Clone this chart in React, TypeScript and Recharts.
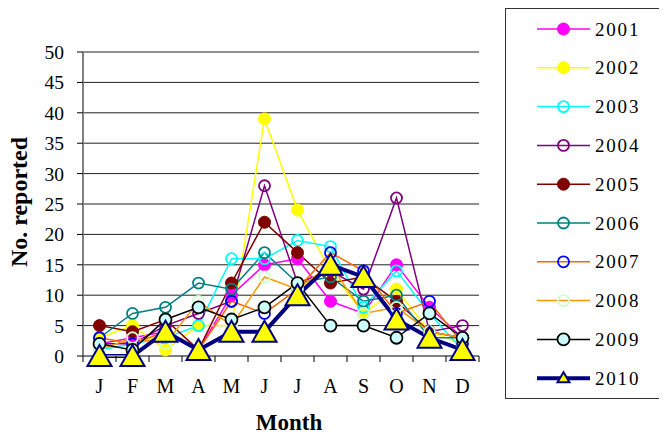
import { LineChart, Line, XAxis, YAxis, CartesianGrid, Label } from 'recharts';

const months = ['J', 'F', 'M', 'A', 'M', 'J', 'J', 'A', 'S', 'O', 'N', 'D'];
const yTicks = [0, 5, 10, 15, 20, 25, 30, 35, 40, 45, 50];

const s2001 = [2, 3, 4, 1, 10, 15, 16, 9, 7, 15, 8, 3];
const s2002 = [3, 5, 1, 5, 5, 39, 24, 14, 7, 11, 4, 2];
const s2003 = [1, 2, 3, 5, 16, 16, 19, 18, 8, 14, 7, 1];
const s2004 = [2, 2, 5, 7, 9, 28, 12, 14, 11, 26, 4, 5];
const s2005 = [5, 4, 6, 1, 12, 22, 17, 12, 13, 9, 4, 3];
const s2006 = [3, 7, 8, 12, 11, 17, 12, 13, 9, 10, 3, 3];
const s2007 = [3, 2, 4, 1, 9, 7, 11, 17, 14, 7, 9, 2];
const s2008 = [1, 3, 2, 9, 5, 13, 11, 15, 7, 8, 4, 3];
const s2009 = [2, 1, 6, 8, 6, 8, 12, 5, 5, 3, 7, 3];
const s2010 = [0, 0, 4, 1, 4, 4, 10, 15, 13, 6, 3, 1];

const FONT = 'Liberation Serif, Times New Roman, Tinos, Times, serif';

type Kind = 'filled' | 'open' | 'cyanfill' | 'triangle';

const series: { key: string; name: string; values: number[]; line: string; mark: string; kind: Kind; width: number }[] = [
  { key: 'y2001', name: '2001', values: s2001, line: '#FF00FF', mark: '#FF00FF', kind: 'filled', width: 1.5 },
  { key: 'y2002', name: '2002', values: s2002, line: '#FFFF00', mark: '#FFFF00', kind: 'filled', width: 1.5 },
  { key: 'y2003', name: '2003', values: s2003, line: '#00FFFF', mark: '#00FFFF', kind: 'open', width: 1.5 },
  { key: 'y2004', name: '2004', values: s2004, line: '#800080', mark: '#800080', kind: 'open', width: 1.5 },
  { key: 'y2005', name: '2005', values: s2005, line: '#800000', mark: '#800000', kind: 'filled', width: 1.5 },
  { key: 'y2006', name: '2006', values: s2006, line: '#008080', mark: '#008080', kind: 'open', width: 1.5 },
  { key: 'y2007', name: '2007', values: s2007, line: '#FF6600', mark: '#0000FF', kind: 'open', width: 1.5 },
  { key: 'y2008', name: '2008', values: s2008, line: '#FF9900', mark: '#CCFFCC', kind: 'open', width: 1.5 },
  { key: 'y2009', name: '2009', values: s2009, line: '#000000', mark: '#CCFFFF', kind: 'cyanfill', width: 1.5 },
  { key: 'y2010', name: '2010', values: s2010, line: '#000080', mark: '#FFFF00', kind: 'triangle', width: 4 },
];

const rows = months.map((m, i) => {
  const r: Record<string, number | string> = { x: i + 0.5, month: m };
  series.forEach((s) => {
    r[s.key] = s.values[i];
  });
  return r;
});

const Marker = ({ cx, cy, kind, color, big }: { cx: number; cy: number; kind: Kind; color: string; big?: boolean }) => {
  if (kind === 'filled') return <circle cx={cx} cy={cy} r={6} fill={color} stroke={color} strokeWidth={1} />;
  if (kind === 'open') return <circle cx={cx} cy={cy} r={5.5} fill="none" stroke={color} strokeWidth={1.8} />;
  if (kind === 'cyanfill') return <circle cx={cx} cy={cy} r={6} fill={color} stroke="#000" strokeWidth={1.8} />;
  const w = big ? 12 : 6;
  const h1 = big ? 11 : 6;
  const h2 = big ? 10 : 4;
  return (
    <polygon
      points={`${cx},${cy - h1} ${cx - w},${cy + h2} ${cx + w},${cy + h2}`}
      fill={color}
      stroke="#000080"
      strokeWidth={2}
    />
  );
};

const MonthTick = (props: any) => {
  const { x, y, payload, width } = props;
  const idx = Math.floor(payload.value);
  const half = (typeof width === 'number' ? width : 396) / 24;
  return (
    <g>
      <line x1={x - half} y1={y} x2={x - half} y2={y + 6} stroke="#000" strokeWidth={1} />
      {idx === months.length - 1 && <line x1={x + half} y1={y} x2={x + half} y2={y + 6} stroke="#000" strokeWidth={1} />}
      <text x={x} y={y + 37} textAnchor="middle" fontSize={20} style={{ fontFamily: FONT }} fill="#000">
        {months[idx]}
      </text>
    </g>
  );
};

const LegendBox = () => (
  <div
    style={{
      position: 'absolute',
      left: 497,
      top: 0,
      width: 170,
      height: 391,
      border: '1.5px solid #333',
      boxSizing: 'border-box',
      background: '#fff',
    }}
  >
    <svg width={170} height={391}>
      {series.map((s, i) => {
        const cy = 20 + i * 38.8;
        return (
          <g key={s.key}>
            <line x1={31} y1={cy} x2={84} y2={cy} stroke={s.line} strokeWidth={s.kind === 'triangle' ? 4 : 1.5} />
            <Marker cx={57.5} cy={cy} kind={s.kind} color={s.mark} />
            <text x={89} y={cy + 6.5} fontSize={19} style={{ fontFamily: FONT }} letterSpacing={1.8} fill="#000">
              {s.name}
            </text>
          </g>
        );
      })}
    </svg>
  </div>
);

export default function App() {
  return (
    <div style={{ position: 'relative', width: 655, height: 427, overflow: 'hidden', background: '#fff', fontFamily: FONT }}>
      <LineChart width={655} height={427} data={rows} margin={{ top: 44, right: 184, left: 5, bottom: 19 }}>
        <CartesianGrid vertical={false} stroke="#222" strokeWidth={1} />
        <XAxis
          dataKey="x"
          type="number"
          domain={[0, 12]}
          ticks={months.map((_, i) => i + 0.5)}
          tick={<MonthTick />}
          tickLine={false}
          tickSize={0}
          tickMargin={0}
          axisLine={{ stroke: '#808080', strokeWidth: 2 }}
          height={60}
          interval={0}
        >
          <Label
            content={({ viewBox }: any) => (
              <text
                x={viewBox.x + viewBox.width / 2 + 8}
                y={422}
                textAnchor="middle"
                fontSize={23}
                fontWeight="bold"
                style={{ fontFamily: FONT }}
                fill="#000"
              >
                Month
              </text>
            )}
          />
        </XAxis>
        <YAxis
          domain={[0, 50]}
          ticks={yTicks}
          interval={0}
          width={70}
          tickSize={6}
          tickMargin={13}
          tickLine={{ stroke: '#000' }}
          axisLine={{ stroke: '#808080', strokeWidth: 2 }}
          tick={{ fontSize: 19.5, fill: '#000', style: { fontFamily: FONT } }}
        >
          <Label
            content={({ viewBox }: any) => {
              const lx = viewBox.x + 14;
              const ly = viewBox.y + viewBox.height / 2 - 2;
              return (
                <text
                  x={lx}
                  y={ly}
                  transform={`rotate(-90 ${lx} ${ly})`}
                  textAnchor="middle"
                  fontSize={24}
                  fontWeight="bold"
                  style={{ fontFamily: FONT }}
                  fill="#000"
                >
                  No. reported
                </text>
              );
            }}
          />
        </YAxis>
        {series.map((s) => (
          <Line
            key={s.key}
            dataKey={s.key}
            name={s.name}
            type="linear"
            stroke={s.line}
            strokeWidth={s.width}
            isAnimationActive={false}
            activeDot={false}
            dot={(p: any) => (
              <Marker key={`${s.key}-${p.index}`} cx={p.cx} cy={p.cy} kind={s.kind} color={s.mark} big />
            )}
          />
        ))}
      </LineChart>
      <LegendBox />
    </div>
  );
}
